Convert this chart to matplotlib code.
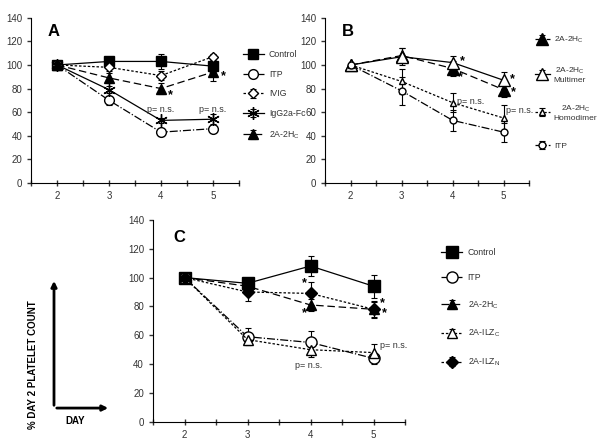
import numpy as np
import matplotlib
matplotlib.use('Agg')
import matplotlib.pyplot as plt

plt.rcParams['font.family'] = ['Liberation Sans', 'DejaVu Sans']
plt.rcParams['font.size'] = 7
plt.rcParams['mathtext.default'] = 'regular'

days = [2, 3, 4, 5]
sub_c = r'2A-2H$_C$'

# Panel A
a_control = [100, 103, 103, 99]
a_control_err = [0, 3, 6, 5]
a_itp = [100, 70, 43, 46]
a_itp_err = [0, 4, 3, 3]
a_ivig = [100, 98, 91, 107]
a_ivig_err = [0, 3, 4, 2]
a_igg = [100, 79, 53, 54]
a_igg_err = [0, 3, 2, 4]
a_2a = [100, 89, 80, 94]
a_2a_err = [0, 4, 5, 8]

# Panel B
b_2a = [100, 108, 97, 79]
b_2a_err = [0, 6, 6, 6]
b_multi = [100, 107, 102, 87]
b_multi_err = [0, 7, 6, 7]
b_homo = [100, 86, 68, 55]
b_homo_err = [0, 11, 8, 11]
b_itp = [100, 78, 53, 43]
b_itp_err = [0, 12, 9, 8]

# Panel C
c_control = [100, 96, 108, 94]
c_control_err = [0, 4, 7, 8]
c_itp = [100, 59, 55, 44]
c_itp_err = [0, 6, 8, 4]
c_2a = [100, 94, 81, 78]
c_2a_err = [0, 5, 4, 5]
c_ilzc = [100, 57, 50, 48]
c_ilzc_err = [0, 4, 5, 6]
c_ilzn = [100, 90, 89, 78]
c_ilzn_err = [0, 6, 8, 6]

fig = plt.figure(figsize=(6, 4.45), dpi=100)
axA = fig.add_axes([0.052, 0.589, 0.346, 0.371])
axB = fig.add_axes([0.542, 0.589, 0.340, 0.371])
axC = fig.add_axes([0.255, 0.052, 0.420, 0.454])

grey = '#333333'


def style(ax):
    ax.set_xlim(1.5, 5.5)
    ax.set_ylim(0, 140)
    ax.set_xticks(np.arange(1.5, 5.51, 0.5))
    ax.set_xticklabels(['' if v % 1 else str(int(v)) for v in np.arange(1.5, 5.51, 0.5)])
    ax.set_yticks(range(0, 141, 20))
    ax.spines['top'].set_visible(False)
    ax.spines['right'].set_visible(False)
    ax.tick_params(axis='both', direction='out', length=3, width=1, labelsize=7, colors=grey)
    ax.tick_params(axis='x', direction='inout', length=5)


def series(ax, y, err, ls, marker, ms, fc, label, lw=0.9):
    ax.errorbar(days, y, yerr=err, ls=ls, marker=marker, ms=ms, mfc=fc, mec='black',
                color='black', lw=lw, elinewidth=0.8, capsize=2, capthick=0.8, label=label)


def fix_legend(leg):
    for t in leg.get_texts():
        t.set_color(grey)
        t.set_multialignment('center')


def star(ax, x, y):
    ax.text(x, y, '*', fontsize=9, fontweight='bold')


# ---- A
series(axA, a_control, a_control_err, '-', 's', 7, 'black', 'Control')
series(axA, a_itp, a_itp_err, '-.', 'o', 7, 'white', 'ITP')
series(axA, a_ivig, a_ivig_err, (0, (2, 1.5)), 'D', 5, 'white', 'IVIG')
series(axA, a_igg, a_igg_err, '-', (6, 2, 0), 9, 'none', 'IgG2a-Fc')
series(axA, a_2a, a_2a_err, (0, (6, 3)), '^', 7, 'black', sub_c)
style(axA)
axA.text(1.82, 128, 'A', fontsize=12, fontweight='bold', va='center')
axA.text(4, 60, 'p= n.s.', ha='center', fontsize=6.5, color=grey)
axA.text(5, 60, 'p= n.s.', ha='center', fontsize=6.5, color=grey)
star(axA, 4.13, 72)
star(axA, 5.15, 88)
leg = axA.legend(loc='upper left', bbox_to_anchor=(0.98, 0.85), frameon=False, fontsize=6.3,
                 handlelength=2.5, labelspacing=1.2, numpoints=1, handletextpad=0.5)
fix_legend(leg)

# ---- B
series(axB, b_2a, b_2a_err, (0, (6, 3)), '^', 8, 'black', sub_c)
series(axB, b_multi, b_multi_err, '-', '^', 8, 'white', sub_c + '\nMultimer')
series(axB, b_homo, b_homo_err, (0, (2, 1.5)), '^', 5, 'white', sub_c + '\nHomodimer')
series(axB, b_itp, b_itp_err, '-.', 'o', 5, 'white', 'ITP')
style(axB)
axB.text(1.82, 128, 'B', fontsize=12, fontweight='bold', va='center')
axB.text(4.08, 67, 'p= n.s.', fontsize=6.5, color=grey)
axB.text(5.05, 59, 'p= n.s.', fontsize=6.5, color=grey)
star(axB, 4.15, 101)
star(axB, 4.1, 87)
star(axB, 5.12, 85)
star(axB, 5.15, 74)
leg = axB.legend(loc='upper left', bbox_to_anchor=(0.99, 0.94), frameon=False, fontsize=6,
                 handlelength=1.8, labelspacing=2.4, numpoints=1, handletextpad=0.5)
fix_legend(leg)

# ---- C
series(axC, c_control, c_control_err, '-', 's', 8, 'black', 'Control')
series(axC, c_itp, c_itp_err, '-.', 'o', 8, 'white', 'ITP')
series(axC, c_2a, c_2a_err, (0, (6, 3)), '^', 7, 'black', sub_c)
series(axC, c_ilzc, c_ilzc_err, (0, (2, 1.5)), '^', 7, 'white', r'2A-ILZ$_C$')
series(axC, c_ilzn, c_ilzn_err, (0, (2, 1.5)), 'D', 6, 'black', r'2A-ILZ$_N$')
style(axC)
axC.text(1.82, 128, 'C', fontsize=12, fontweight='bold', va='center')
axC.text(3.75, 37, 'p= n.s.', fontsize=6.5, color=grey)
axC.text(5.1, 51, 'p= n.s.', fontsize=6.5, color=grey)
star(axC, 3.87, 94)
star(axC, 3.87, 73)
star(axC, 5.1, 80)
star(axC, 5.13, 73)
leg = axC.legend(loc='upper left', bbox_to_anchor=(1.11, 0.90), frameon=False, fontsize=6.3,
                 handlelength=2.5, labelspacing=1.85, numpoints=1, handletextpad=0.6)
fix_legend(leg)

# axis key arrows bottom-left
fig.add_artist(matplotlib.patches.FancyArrowPatch((0.09, 0.083), (0.09, 0.375), transform=fig.transFigure,
               arrowstyle='-|>', mutation_scale=8, lw=2, color='black'))
fig.add_artist(matplotlib.patches.FancyArrowPatch((0.09, 0.083), (0.185, 0.083), transform=fig.transFigure,
               arrowstyle='-|>', mutation_scale=8, lw=2, color='black'))
fig.text(0.125, 0.055, 'DAY', fontsize=7, fontweight='bold', ha='center', va='center')
fig.text(0.055, 0.18, '% DAY 2 PLATELET COUNT', fontsize=7, fontweight='bold', rotation=90,
         ha='center', va='center')

fig.savefig('out.png', dpi=100)
